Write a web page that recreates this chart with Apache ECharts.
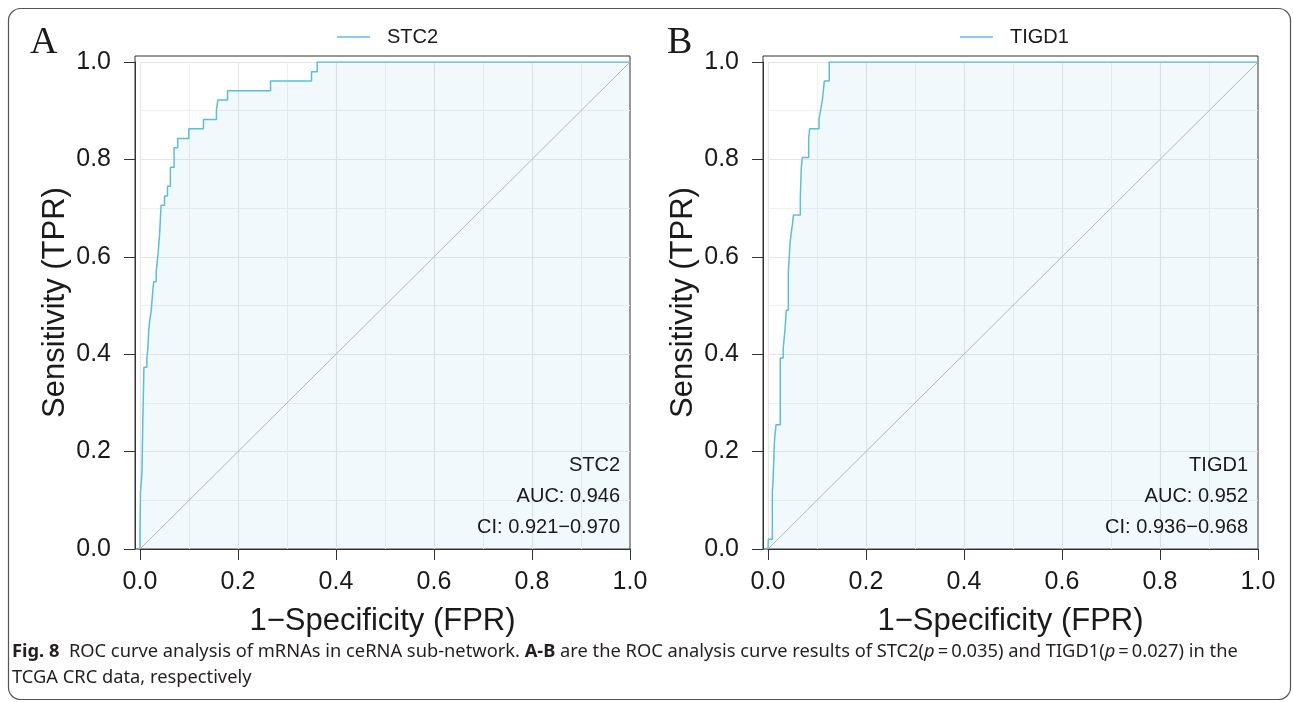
<!DOCTYPE html>
<html>
<head>
<meta charset="utf-8">
<script src="https://cdn.jsdelivr.net/npm/echarts@6/dist/echarts.min.js"></script>
<style>
html, body { margin: 0; padding: 0; background: #fff; }
#chart { width: 1293px; height: 702px; }
</style>
</head>
<body>
<div id="chart"></div>
<script>
// ROC corner points (FPR, TPR)
var fprA = [0, 0, 0.001, 0.004, 0.006, 0.008, 0.014, 0.016, 0.018, 0.020, 0.023, 0.026, 0.028, 0.033, 0.037, 0.040,
	0.043, 0.050, 0.056, 0.062, 0.0695, 0.077, 0.0995, 0.1295, 0.156, 0.159, 0.1786, 0.2664, 0.350, 0.3617, 1];
var tprA = [0, 0.039, 0.118, 0.157, 0.275, 0.373, 0.392, 0.412, 0.451, 0.471, 0.490, 0.529, 0.549, 0.569, 0.608, 0.647,
	0.706, 0.725, 0.745, 0.784, 0.824, 0.843, 0.863, 0.882, 0.902, 0.922, 0.941, 0.961, 0.980, 1, 1];

var fprB = [0, 0.0007, 0.0088, 0.0102, 0.0129, 0.0143, 0.0163, 0.025, 0.031, 0.0347, 0.0374, 0.0415, 0.045, 0.047,
	0.050, 0.052, 0.066, 0.068, 0.070, 0.083, 0.085, 0.104, 0.1075, 0.111, 0.115, 0.125, 1];
var tprB = [0, 0.020, 0.118, 0.137, 0.216, 0.235, 0.255, 0.392, 0.412, 0.451, 0.490, 0.569, 0.627, 0.647,
	0.667, 0.686, 0.725, 0.784, 0.804, 0.843, 0.863, 0.882, 0.902, 0.922, 0.961, 1, 1];

// chance line
var chance = [0, 1];

var namesAB = ['STC2', 'TIGD1'];
var aucA = ['STC2', 'AUC: 0.946', 'CI: 0.921\u22120.970'];
var aucB = ['TIGD1', 'AUC: 0.952', 'CI: 0.936\u22120.968'];

var SANS = 'Liberation Sans, Arial, sans-serif';
var TXT = '#1a1a1a';
var ROC_COLOR = '#5bbfdb';

function pairs(xs, ys) {
	var out = [];
	for (var i = 0; i < xs.length; i++) out.push([xs[i], ys[i]]);
	return out;
}

var chart = echarts.init(document.getElementById('chart'), null, { renderer: 'canvas' });

var grids = [], xAxes = [], yAxes = [], series = [], legends = [];

function addPanel(frameLeft, name, fpr, tpr, legendLeft) {
	var g = grids.length;
	// outer frame (panel border), also carries the axis titles
	grids.push({ left: frameLeft, top: 56, width: 495, height: 493, show: true, borderColor: '#333', borderWidth: 1, backgroundColor: 'transparent' });
	// data area 0..1
	grids.push({ left: frameLeft + 5, top: 62, width: 490, height: 487 });

	xAxes.push({
		type: 'value', gridIndex: g, min: 0, max: 1,
		axisLine: { show: false }, axisTick: { show: false }, axisLabel: { show: false }, splitLine: { show: false },
		name: '1\u2212Specificity (FPR)', nameLocation: 'middle', nameGap: 57,
		nameTextStyle: { fontSize: 31, fontFamily: SANS, color: TXT }
	});
	yAxes.push({
		type: 'value', gridIndex: g, min: 0, max: 1,
		axisLine: { show: false }, axisTick: { show: false }, axisLabel: { show: false }, splitLine: { show: false },
		name: 'Sensitivity (TPR)', nameLocation: 'middle', nameGap: 64,
		nameTextStyle: { fontSize: 31, fontFamily: SANS, color: TXT }
	});

	xAxes.push({
		type: 'value', gridIndex: g + 1, min: 0, max: 1, interval: 0.2,
		axisLine: { show: true, onZero: false, lineStyle: { color: '#333', width: 1 } },
		axisTick: { show: true, length: 11, lineStyle: { color: '#333', width: 1 } },
		axisLabel: { fontSize: 25, fontFamily: SANS, color: TXT, margin: 21, formatter: function (v) { return v.toFixed(1); } },
		splitLine: { show: true, showMaxLine: false, lineStyle: { color: '#e6e6e6', width: 1.2 } },
		minorTick: { show: false, splitNumber: 2 },
		minorSplitLine: { show: true, lineStyle: { color: '#efefef', width: 1 } }
	});
	yAxes.push({
		type: 'value', gridIndex: g + 1, min: 0, max: 1, interval: 0.2, offset: 5,
		axisLine: { show: true, onZero: false, lineStyle: { color: '#333', width: 1 } },
		axisTick: { show: true, length: 11, lineStyle: { color: '#333', width: 1 } },
		axisLabel: { fontSize: 25, fontFamily: SANS, color: TXT, margin: 24, formatter: function (v) { return v.toFixed(1); } },
		splitLine: { show: true, showMinLine: false, lineStyle: { color: '#e6e6e6', width: 1.2 } },
		minorTick: { show: false, splitNumber: 2 },
		minorSplitLine: { show: true, lineStyle: { color: '#efefef', width: 1 } }
	});

	var ax = xAxes.length - 1;
	series.push({
		name: name, type: 'line', xAxisIndex: ax, yAxisIndex: ax,
		data: pairs(fpr, tpr), step: 'end', symbol: 'none', z: 3,
		lineStyle: { color: ROC_COLOR, width: 1.5 }, itemStyle: { color: ROC_COLOR },
		areaStyle: { color: 'rgba(91,191,219,0.12)', origin: 'start' }
	});
	series.push({
		name: name + ' chance', type: 'line', xAxisIndex: ax, yAxisIndex: ax,
		data: pairs(chance, chance), symbol: 'none', silent: true, z: 4,
		lineStyle: { color: '#b5b5b5', width: 1 }
	});

	legends.push({
		data: [name], left: legendLeft, top: 22, icon: 'rect', itemWidth: 33, itemHeight: 1.5,
		textStyle: { fontSize: 20, fontFamily: SANS, color: TXT, padding: [0, 0, 0, 12] }
	});
}

addPanel(135, namesAB[0], fprA, tprA, 332);
addPanel(763, namesAB[1], fprB, tprB, 955);

function aucText(x, lines) {
	return {
		type: 'text', x: x, y: 449.5, z: 100,
		style: { text: lines.join('\n'), align: 'right', verticalAlign: 'top', lineHeight: 31, fontSize: 20, fontFamily: SANS, fill: TXT }
	};
}

var capFont = 'Noto Sans, Open Sans, sans-serif';
var capRich = {
	n: { fontSize: 18.3, fontFamily: capFont, color: '#231f20', lineHeight: 26 },
	b: { fontSize: 18.3, fontFamily: capFont, fontWeight: 'bold', color: '#231f20', lineHeight: 26 },
	i: { fontSize: 18.3, fontFamily: capFont, fontStyle: 'italic', color: '#231f20', lineHeight: 26 }
};
var caption = '{b|Fig. 8}{n|  ROC curve analysis of mRNAs in ceRNA sub-network. }{b|A-B}{n| are the ROC analysis curve results of STC2(}{i|p}{n|\u2009=\u20090.035) and TIGD1(}{i|p}{n|\u2009=\u20090.027) in the}\n' +
	'{n|TCGA CRC data, respectively}';

var option = {
	animation: false,
	backgroundColor: '#fff',
	grid: grids,
	xAxis: xAxes,
	yAxis: yAxes,
	legend: legends,
	series: series,
	graphic: [
		{ type: 'rect', z: 0, shape: { x: 8.5, y: 8.5, width: 1282, height: 691, r: 12 }, style: { fill: 'none', stroke: '#555', lineWidth: 1.2 } },
		{ type: 'text', x: 30, y: 43, z: 100, style: { text: 'A', fontFamily: 'Liberation Serif, serif', fontSize: 38, verticalAlign: 'middle', fill: TXT } },
		{ type: 'text', x: 667, y: 43, z: 100, style: { text: 'B', fontFamily: 'Liberation Serif, serif', fontSize: 38, verticalAlign: 'middle', fill: TXT } },
		aucText(620, aucA),
		aucText(1248, aucB),
		{ type: 'text', x: 12, y: 639, z: 100, style: { text: caption, rich: capRich, verticalAlign: 'top', fill: '#231f20' } }
	]
};

chart.setOption(option);
</script>
</body>
</html>
